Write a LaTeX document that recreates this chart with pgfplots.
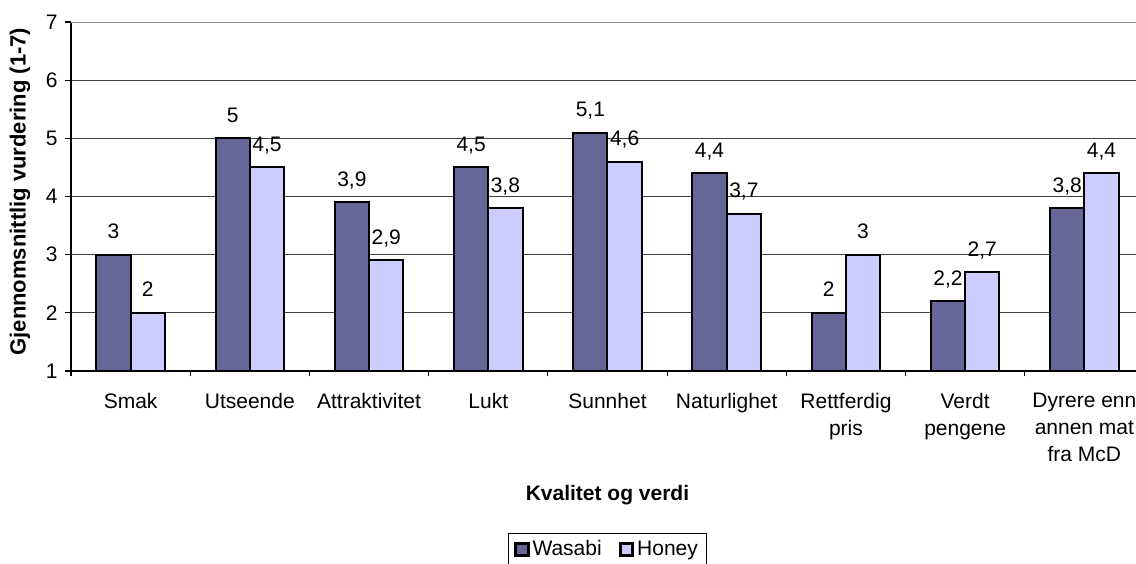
\documentclass[border=0pt]{standalone}
\usepackage{pgfplots}
\pgfplotsset{compat=1.18}
\usepackage{fontspec}
\setmainfont{Liberation Sans}

\definecolor{wasabic}{HTML}{666699}
\definecolor{honeyc}{HTML}{CCCCFF}

\begin{document}
\fontsize{10.5}{12.5}\selectfont
\begin{tikzpicture}
  \begin{axis}[
    at={(0,0)}, anchor=south west,
    scale only axis, width=536.5pt, height=174.5pt,
    xmin=-0.5, xmax=8.5, ymin=1, ymax=7,
    ybar=0pt, bar width=0.2876,
    axis x line*=bottom, axis y line*=left,
    axis line style={black, line width=0.6pt},
    tick align=outside, tick style={black, line width=0.6pt},
    xtick={0,...,8}, major x tick style={draw=none},
    minor xtick={-0.5,0.5,...,8.5}, minor tick length=2.5pt,
    xticklabels={Smak, Utseende, Attraktivitet, Lukt, Sunnhet, Naturlighet,
                 {Rettferdig\\pris}, {Verdt\\pengene}, {Dyrere enn\\annen mat\\fra McD}},
    xticklabel style={align=center, anchor=north, yshift=-4.5pt,
                      font=\fontsize{10.5}{13.5}\selectfont},
    ytick={1,...,7}, major tick length=3pt,
    ymajorgrids, grid style={black!75, line width=0.5pt},
    /pgf/number format/assume math mode=true,
    /pgf/number format/use comma,
    xlabel={\bfseries Kvalitet og verdi},
    xlabel style={at={(axis description cs:0.5,-0.355)}, anchor=center},
    ylabel={\bfseries Gjennomsnittlig vurdering (1-7)},
    ylabel style={at={(axis description cs:-0.0475,0.514)}, anchor=center,
                  font=\fontsize{11}{13}\selectfont},
    nodes near coords,
    every node near coord/.append style={anchor=base, yshift=8pt, black},
    legend columns=2,
    legend style={at={(axis description cs:0.5,-0.464)}, anchor=north,
                  draw=black, line width=0.5pt, inner xsep=3pt, inner ysep=1.5pt,
                  font=\fontsize{10.5}{12.5}\selectfont,
                  nodes={inner xsep=1.5pt},
                  /tikz/every even column/.append style={column sep=7pt}},
    legend image code/.code={\draw[#1, line width=1.5pt] (0pt,-3.1pt) rectangle (6.2pt,3.1pt);},
  ]
    \addplot[fill=wasabic, draw=black, line width=1pt]
      coordinates {(0,3) (1,5) (2,3.9) (3,4.5) (4,5.1) (5,4.4) (6,2) (7,2.2) (8,3.8)};
    \addplot[fill=honeyc, draw=black, line width=1pt]
      coordinates {(0,2) (1,4.5) (2,2.9) (3,3.8) (4,4.6) (5,3.7) (6,3) (7,2.7) (8,4.4)};
    \legend{Wasabi, Honey}
    \draw[black!45, line width=1pt] (axis cs:-0.5,7) -- (axis cs:8.5,7);
  \end{axis}
  \pgfresetboundingbox
  \path[use as bounding box] (-35.5pt,-96pt) rectangle (532.5pt,185.5pt);
\end{tikzpicture}
\end{document}
